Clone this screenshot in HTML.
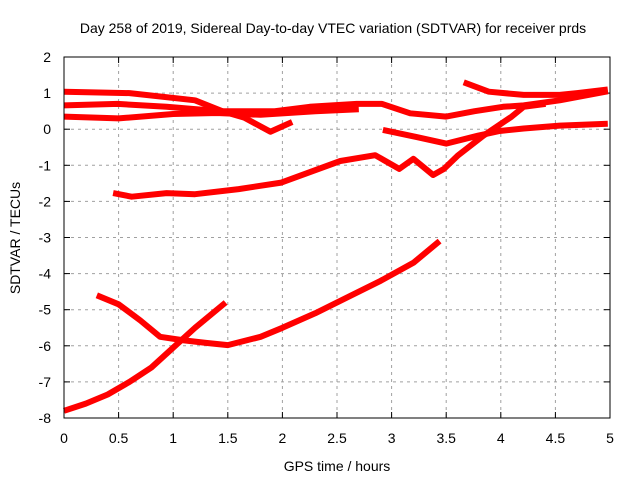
<!DOCTYPE html>
<html><head><meta charset="utf-8"><style>
body{margin:0;background:#fff}
svg{display:block;font-family:"Liberation Sans",sans-serif}
</style></head><body>
<svg id="c" width="640" height="480">
<text x="333" y="33" text-anchor="middle" font-size="14">Day 258 of 2019, Sidereal Day-to-day VTEC variation (SDTVAR) for receiver prds</text>
<text x="337" y="471" text-anchor="middle" font-size="14">GPS time / hours</text>
<text transform="translate(20,238) rotate(-90)" text-anchor="middle" font-size="14">SDTVAR / TECUs</text>
<g id="grid"></g><g id="series"></g>
<rect x="64" y="57" width="546" height="361" fill="none" stroke="#000" stroke-width="1"/>
</svg>
<script>
const xTicks=[0,0.5,1,1.5,2,2.5,3,3.5,4,4.5,5];
const xTickLabels=["0","0.5","1","1.5","2","2.5","3","3.5","4","4.5","5"];
const yTicks=[2,1,0,-1,-2,-3,-4,-5,-6,-7,-8];
const yTickLabels=["2","1","0","-1","-2","-3","-4","-5","-6","-7","-8"];
const s1h=[0,0.6,1.2,1.45,1.65,1.89,2.09];
const s1v=[1.04,1.0,0.8,0.5,0.32,-0.07,0.2];
const s2h=[0,0.49,0.94,1.43,1.93,2.25,2.68,2.91,3.17,3.5,3.76,4.02,4.21,4.54,4.98];
const s2v=[0.66,0.7,0.62,0.5,0.5,0.62,0.7,0.7,0.44,0.35,0.5,0.62,0.66,0.8,1.05];
const s3h=[0,0.5,1.0,1.4,1.8,2.3,2.7];
const s3v=[0.35,0.3,0.42,0.45,0.4,0.5,0.55];
const s4h=[3.66,3.89,4.21,4.54,4.7,4.98];
const s4v=[1.3,1.04,0.95,0.95,1.0,1.1];
const s5h=[2.92,3.23,3.5,3.79,3.99,4.21,4.54,4.98];
const s5v=[-0.02,-0.22,-0.4,-0.18,-0.05,0.02,0.1,0.15];
const s6h=[0.45,0.62,0.94,1.2,1.6,1.99,2.53,2.85,3.07,3.2,3.38,3.48,3.61,3.84,4.1,4.21,4.41];
const s6v=[-1.77,-1.87,-1.77,-1.8,-1.66,-1.48,-0.88,-0.72,-1.1,-0.82,-1.27,-1.1,-0.72,-0.18,0.35,0.62,0.7];
const s7h=[0,0.2,0.4,0.6,0.8,1.0,1.2,1.48];
const s7v=[-7.8,-7.6,-7.35,-7.0,-6.6,-6.05,-5.5,-4.8];
const s8h=[0.3,0.5,0.7,0.88,1.1,1.3,1.5,1.8,2.0,2.3,2.6,2.9,3.2,3.44];
const s8v=[-4.6,-4.85,-5.3,-5.75,-5.85,-5.92,-5.98,-5.75,-5.5,-5.1,-4.65,-4.2,-3.7,-3.1];
const X0=64,X1=610,Y0=418,Y1=57;
const xs=h=>X0+(h-0)/(5-0)*(X1-X0);
const ys=v=>Y0-(v+8)/(10)*(Y0-Y1);
const NS="http://www.w3.org/2000/svg";
const grid=document.getElementById('grid'),ser=document.getElementById('series');
function mk(t,p,a){const e=document.createElementNS(NS,t);for(const k in a)e.setAttribute(k,a[k]);p.appendChild(e);return e;}
xTicks.forEach((t,i)=>{const x=xs(t);
 if(i>0&&i<xTicks.length-1){const g=mk('line',grid,{x1:x,x2:x,y1:Y1,y2:Y0,stroke:'#a0a0a0','stroke-dasharray':'3,4'});
 
 }
 mk('line',grid,{x1:x,x2:x,y1:Y0,y2:Y0-6,stroke:'#000'});
 mk('line',grid,{x1:x,x2:x,y1:Y1,y2:Y1+6,stroke:'#000'});
 const l=mk('text',grid,{x:x,y:443,'text-anchor':'middle','font-size':14});l.textContent=xTickLabels[i];
 
 
});
yTicks.forEach((t,i)=>{const y=ys(t);
 if(i>0&&i<yTicks.length-1){const g=mk('line',grid,{x1:X0,x2:X1,y1:y,y2:y,stroke:'#a0a0a0','stroke-dasharray':'3,4'});
 
 }
 mk('line',grid,{x1:X0,x2:X0+6,y1:y,y2:y,stroke:'#000'});
 mk('line',grid,{x1:X1,x2:X1-6,y1:y,y2:y,stroke:'#000'});
 const l=mk('text',grid,{x:51,y:y+5,'text-anchor':'end','font-size':14});l.textContent=yTickLabels[i];
 
 
});
[[s1h,s1v],[s2h,s2v],[s3h,s3v],[s4h,s4v],[s5h,s5v],[s6h,s6v],[s7h,s7v],[s8h,s8v]].forEach((s,k)=>{
 const pts=s[0].map((h,i)=>xs(h).toFixed(1)+','+ys(s[1][i]).toFixed(1)).join(' ');
 const p=mk('polyline',ser,{points:pts,fill:'none',stroke:'#ff0000','stroke-width':6,'stroke-linejoin':'round'});
 
 
});
</script>
</body></html>
